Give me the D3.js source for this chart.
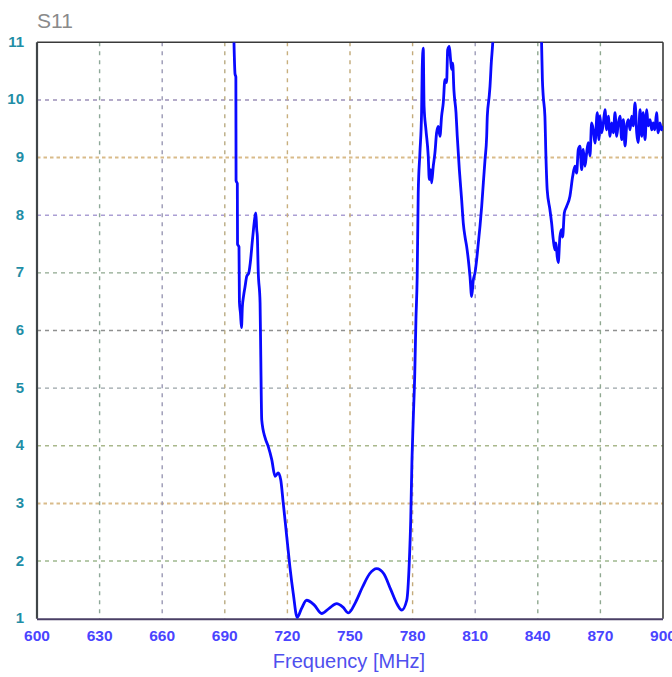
<!DOCTYPE html>
<html>
<head>
<meta charset="utf-8">
<script src="https://cdn.jsdelivr.net/npm/d3@7"></script>
<style>
  html, body { margin: 0; padding: 0; background: #ffffff; }
  svg { display: block; }
</style>
</head>
<body>
<svg id="chart" width="672" height="677"></svg>
<script>
// ---- data ----
const xTicks = [600, 630, 660, 690, 720, 750, 780, 810, 840, 870, 900];
const yTicks = [1, 2, 3, 4, 5, 6, 7, 8, 9, 10, 11];
const chartTitle = "S11";
const xLabel = "Frequency [MHz]";

// frequency (MHz)
const freq = [
  694.4, 694.9, 695.3, 695.4, 696.0, 696.1, 696.8, 697.0, 697.5, 698.0,
  698.4, 699.0, 699.7, 700.5, 701.5, 702.2, 703.4, 704.5, 704.9, 705.3,
  705.6, 706.0, 706.9, 707.2, 707.7, 709.3, 710.8, 712.5, 714.1, 715.6,
  716.8, 718.0, 719.7, 721.2, 722.8, 724.7, 726.8, 729.2, 732.8, 736.4,
  740.0, 743.6, 746.6, 749.2, 752.6, 756.0, 759.4, 762.8, 766.2, 769.6,
  772.6, 774.8, 777.2, 778.4, 779.1, 779.7, 780.3, 781.0, 781.6, 782.2,
  782.7, 783.5, 784.3, 784.6, 785.1, 785.5, 786.4, 787.5, 788.0, 788.7,
  789.1, 789.9, 790.7, 791.5, 792.3, 793.1, 793.9, 794.7, 795.5, 796.3,
  796.8, 797.6, 798.2, 798.7, 799.2, 799.8, 800.8, 801.4, 802.4, 803.5,
  804.3, 805.1, 805.9, 806.7, 807.5, 808.3, 809.1, 809.9, 810.7, 811.5,
  812.3, 813.1, 813.9, 814.7, 815.5, 815.8, 816.7, 817.1, 817.7, 818.4,
  819.5, 840.5, 841.8, 842.2, 842.6, 843.4, 843.9, 844.5, 845.8, 846.6,
  847.4, 848.2, 848.7, 849.3, 849.8, 850.6, 851.4, 851.9, 852.7, 853.8,
  855.4, 856.7, 857.8, 858.6, 859.4, 860.2, 861.0, 861.8, 862.6, 863.4,
  864.2, 865.0, 865.8, 866.6, 867.4, 868.5, 869.3, 869.8, 870.6, 871.4,
  872.2, 873.0, 873.8, 874.6, 875.4, 876.2, 877.0, 877.8, 878.6, 879.4,
  880.2, 881.0, 881.8, 882.6, 883.4, 884.2, 885.0, 885.7, 886.6, 887.4,
  888.1, 889.0, 889.8, 890.5, 891.4, 892.2, 892.9, 893.8, 894.6, 895.3,
  896.1, 896.9, 897.7, 898.5, 899.3, 900.0
];
// S11 value
const s11 = [
  11.0, 10.45, 10.4, 8.6, 8.55, 7.5, 7.45, 6.5, 6.3, 6.05,
  6.4, 6.6, 6.76, 6.94, 7.0, 7.17, 7.63, 7.98, 8.04, 7.75,
  7.63, 7.05, 6.48, 5.67, 4.45, 4.14, 3.99, 3.76, 3.47, 3.53,
  3.41, 3.01, 2.42, 1.9, 1.44, 1.02, 1.18, 1.32, 1.24, 1.09,
  1.18, 1.26, 1.2, 1.1, 1.28, 1.55, 1.78, 1.87, 1.78, 1.5,
  1.25, 1.15, 1.32, 1.97, 2.71, 3.76, 4.45, 5.2, 6.19, 6.94,
  8.39, 9.08, 9.78, 10.53, 10.9, 9.89, 9.48, 9.02, 8.62, 8.79,
  8.56, 8.85, 9.08, 9.43, 9.54, 9.37, 9.72, 9.95, 10.35, 10.3,
  10.87, 10.93, 10.7, 10.53, 10.64, 10.17, 9.78, 9.37, 8.79, 8.27,
  7.86, 7.63, 7.46, 7.23, 6.94, 6.59, 6.88, 7.0, 7.23, 7.52,
  7.81, 8.15, 8.56, 8.96, 9.37, 9.72, 10.06, 10.24, 10.64, 10.99,
  12.0, 12.0, 11.0, 10.35, 10.07, 9.72, 9.02, 8.44, 8.1, 7.87,
  7.58, 7.4, 7.52, 7.28, 7.18, 7.63, 7.75, 7.62, 8.04, 8.15,
  8.33, 8.67, 8.85, 8.73, 9.14, 9.2, 8.79, 9.14, 8.85, 9.08,
  9.26, 9.03, 9.6, 9.48, 9.25, 9.78, 9.31, 9.72, 9.43, 9.6,
  9.83, 9.48, 9.72, 9.37, 9.6, 9.43, 9.78, 9.37, 9.6, 9.72,
  9.31, 9.66, 9.2, 9.55, 9.66, 9.48, 9.72, 9.55, 9.95, 9.43,
  9.26, 9.83, 9.37, 9.78, 9.31, 9.83, 9.55, 9.66, 9.48, 9.6,
  9.48, 9.78, 9.43, 9.6, 9.48, 9.55
];

// ---- styles ----
const hGridColor = {1: "none", 2: "#9fb88f", 3: "#d9bb8a", 4: "#a9b88c", 5: "#9aa4a8",
  6: "#8f9090", 7: "#8fa88f", 8: "#ab9fd4", 9: "#d9bb8a", 10: "#9c90b8", 11: "none"};
const vGridColor = {600: "none", 630: "#8ea898", 660: "#9a98b4", 690: "#b9ab82", 720: "#c8af7d",
  750: "#c1a978", 780: "#c3aa7a", 810: "#9d9cb8", 840: "#8fa890", 870: "#8fa890", 900: "none"};

const svg = d3.select("#chart");
const x = d3.scaleLinear().domain([600, 900]).range([37, 663]);
const y = d3.scaleLinear().domain([1, 11]).range([618.7, 42.3]);

svg.append("defs").append("clipPath").attr("id", "plotclip")
  .append("rect")
  .attr("x", x(600)).attr("y", y(11))
  .attr("width", x(900) - x(600)).attr("height", y(1) - y(11));

// horizontal grid
svg.append("g").selectAll("line")
  .data(yTicks.filter(d => hGridColor[d] !== "none"))
  .join("line")
  .attr("x1", x(600)).attr("x2", x(900))
  .attr("y1", d => y(d)).attr("y2", d => y(d))
  .attr("stroke", d => hGridColor[d])
  .attr("stroke-width", d => (d === 3 || d === 9) ? 2 : 1.4)
  .attr("stroke-dasharray", d => (d === 3 || d === 9) ? "3.5,3" : "4,4");

// vertical grid
svg.append("g").selectAll("line")
  .data(xTicks.filter(d => vGridColor[d] !== "none"))
  .join("line")
  .attr("x1", d => x(d)).attr("x2", d => x(d))
  .attr("y1", y(11)).attr("y2", y(1))
  .attr("stroke", d => vGridColor[d])
  .attr("stroke-width", 1.4)
  .attr("stroke-dasharray", "4,5");

// frame
svg.append("line").attr("x1", x(600)).attr("x2", x(900)).attr("y1", y(11)).attr("y2", y(11))
  .attr("stroke", "#3a3a3a").attr("stroke-width", 1.6);
svg.append("line").attr("x1", x(900)).attr("x2", x(900)).attr("y1", y(11)).attr("y2", y(1))
  .attr("stroke", "#3a3a3a").attr("stroke-width", 1.6);
svg.append("line").attr("x1", x(600)).attr("x2", x(600)).attr("y1", y(11)).attr("y2", y(1))
  .attr("stroke", "#404548").attr("stroke-width", 2.2);
svg.append("line").attr("x1", x(600)).attr("x2", x(900)).attr("y1", y(1) + 0.5).attr("y2", y(1) + 0.5)
  .attr("stroke", "#4a3f66").attr("stroke-width", 2);

// curve
const pts = freq.map((f, i) => [f, s11[i]]);
const line = d3.line().x(d => x(d[0])).y(d => y(d[1])).curve(d3.curveMonotoneX);
svg.append("path")
  .datum(pts)
  .attr("clip-path", "url(#plotclip)")
  .attr("d", line)
  .attr("fill", "none")
  .attr("stroke", "#0a0aff")
  .attr("stroke-width", 2.8)
  .attr("stroke-linejoin", "round");

// y tick labels
svg.append("g").selectAll("text")
  .data(yTicks)
  .join("text")
  .attr("x", 24)
  .attr("y", d => y(d) + 4.5)
  .attr("text-anchor", "end")
  .attr("font-family", "Liberation Sans, Arial, sans-serif")
  .attr("font-weight", "bold")
  .attr("font-size", 15)
  .attr("fill", "#1f8ea6")
  .text(d => d);

// x tick labels
svg.append("g").selectAll("text")
  .data(xTicks)
  .join("text")
  .attr("x", d => x(d))
  .attr("y", 641)
  .attr("text-anchor", "middle")
  .attr("font-family", "Liberation Sans, Arial, sans-serif")
  .attr("font-weight", "bold")
  .attr("font-size", 15.5)
  .attr("fill", "#4a44ff")
  .text(d => d);

// x axis title
svg.append("text")
  .attr("x", 349)
  .attr("y", 668)
  .attr("text-anchor", "middle")
  .attr("font-family", "Liberation Sans, Arial, sans-serif")
  .attr("font-size", 20)
  .attr("fill", "#4f4fee")
  .text(xLabel);

// chart title
svg.append("text")
  .attr("x", 37)
  .attr("y", 28)
  .attr("font-family", "Liberation Sans, Arial, sans-serif")
  .attr("font-size", 21)
  .attr("fill", "#8a8a8a")
  .text(chartTitle);
</script>
</body>
</html>
